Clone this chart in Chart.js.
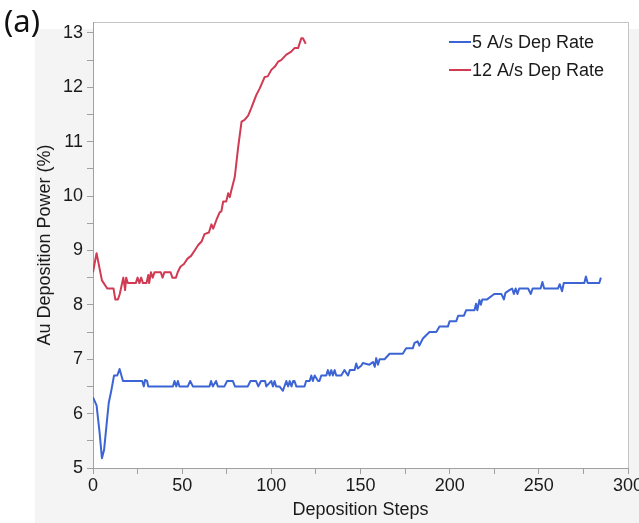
<!DOCTYPE html>
<html>
<head>
<meta charset="utf-8">
<script src="https://cdn.jsdelivr.net/npm/chart.js@4"></script>
<style>
html, body { margin: 0; padding: 0; background: #fff; }
#wrap { position: relative; width: 639px; height: 523px; }
#tag { position: absolute; left: 4px; top: -1px; font: 31px "Noto Sans", sans-serif; color: #111; }
</style>
</head>
<body>
<div id="wrap">
  <canvas id="chart" width="639" height="523"></canvas>
  <div id="tag">(a)</div>
</div>
<script>
// values
const seriesLabels = ['5 A/s Dep Rate', '12 A/s Dep Rate'];

const stepsBlue = [0, 2, 3.7, 5, 6.2, 7.5, 8.8, 10.3, 11.8, 13.6, 14.9, 16.8, 27.6, 28.5, 29.2, 30.3, 31,
  44.8, 45.7, 46.7, 47.6, 48.5, 53.2, 54.5, 56, 65.3, 66.2, 67.2, 69, 70, 73.7, 75.2, 78.4, 79.6,
  86.8, 88.3, 91.4, 92.7, 94.2, 96.5, 97.2, 100, 100.9, 101.8, 102.7, 104.6, 106.5, 108.4, 109.4,
  110.3, 111.3, 112.2, 113, 114, 118.6, 119.5, 121.5, 122.4, 123.3, 124.3, 126.2, 127, 128, 130.8,
  131.7, 132.7, 133.6, 134.5, 135.5, 136.4, 139.2, 141, 143, 144, 146.7, 147.6, 148.5, 150.4, 151.3,
  155, 157, 158, 158.8, 159.8, 160.7, 163.5, 166.3, 173.7, 175.6, 179.3, 180.3, 182, 183, 185, 188.7,
  192.5, 194.3, 199, 200, 203.7, 204.8, 208, 209.2, 213.9, 214.8, 215.5, 216.7, 217.5, 218.3, 221,
  225, 229, 230.4, 231.3, 233.5, 235, 236, 237, 238, 239, 244, 245.5, 246.5, 251, 252, 253, 260.7,
  261.7, 263, 264, 275.5, 276.4, 277.4, 283.9, 284.8];
const powerBlue = [6.3, 6.15, 5.65, 5.18, 5.33, 5.76, 6.19, 6.43, 6.7, 6.7, 6.82, 6.6, 6.6, 6.5, 6.62, 6.6, 6.5,
  6.5, 6.6, 6.5, 6.6, 6.5, 6.5, 6.6, 6.5, 6.5, 6.6, 6.5, 6.6, 6.5, 6.5, 6.6, 6.6, 6.5,
  6.5, 6.6, 6.6, 6.5, 6.6, 6.6, 6.5, 6.6, 6.5, 6.6, 6.5, 6.5, 6.42, 6.6, 6.5,
  6.6, 6.5, 6.6, 6.6, 6.5, 6.5, 6.6, 6.6, 6.7, 6.6, 6.7, 6.6, 6.6, 6.7, 6.7,
  6.8, 6.7, 6.8, 6.7, 6.8, 6.7, 6.7, 6.8, 6.7, 6.8, 6.8, 6.92, 6.83, 6.88, 6.93,
  6.9, 6.95, 6.86, 7.02, 6.9, 7.0, 7.0, 7.1, 7.1, 7.2, 7.2, 7.3, 7.33, 7.25, 7.38, 7.5,
  7.5, 7.6, 7.6, 7.7, 7.7, 7.8, 7.8, 7.9, 7.9, 8.02, 7.9, 8.09, 8.0, 8.1, 8.1,
  8.2, 8.2, 8.1, 8.22, 8.27, 8.3, 8.2, 8.3, 8.2, 8.3, 8.3, 8.2, 8.3, 8.3, 8.42, 8.3, 8.3,
  8.38, 8.25, 8.4, 8.4, 8.52, 8.4, 8.4, 8.5];

const stepsRed = [0, 2, 5, 8, 11.5, 12.5, 14, 15, 17, 18, 18.6, 19.5, 24, 25, 26, 27, 28, 30, 31, 31.5,
  32.5, 33.5, 34.5, 38, 39, 40, 43.5, 44.5, 46.5, 47.5, 49, 51, 53, 55, 57, 59, 61, 62.5, 65, 66.4,
  67.4, 69.2, 71, 72, 73, 74.7, 75.8, 76.7, 77.7, 79.5, 81.4, 83.3, 85, 87, 88.8, 91.6, 93.5, 96.3,
  98, 100, 102, 103.8, 105.5, 108.4, 111, 113, 115, 116.8, 117.7, 119.3];
const powerRed = [8.6, 8.95, 8.45, 8.3, 8.3, 8.1, 8.1, 8.2, 8.5, 8.27, 8.5, 8.4, 8.4, 8.5, 8.4, 8.5, 8.4, 8.4, 8.55, 8.4,
  8.6, 8.5, 8.6, 8.6, 8.5, 8.6, 8.6, 8.5, 8.5, 8.6, 8.7, 8.75, 8.85, 8.9, 9.0, 9.1, 9.17, 9.3, 9.33, 9.48,
  9.4, 9.56, 9.7, 9.72, 9.9, 9.9, 10.05, 9.98, 10.12, 10.35, 10.9, 11.37, 11.4, 11.48, 11.62, 11.86, 11.98, 12.19,
  12.2, 12.32, 12.38, 12.47, 12.5, 12.6, 12.65, 12.72, 12.72, 12.9, 12.9, 12.8];

const blueColor = '#3d64d4';
const redColor = '#d03a52';
const axisGray = '#a0a0a0';
const tickFont = { family: '"Liberation Sans", Arial, sans-serif', size: 18 };

const toPoints = (xs, ys) => xs.map((x, i) => ({ x: x, y: ys[i] }));

// gray panel behind the plot and white plot box
const backdrop = {
  id: 'backdrop',
  beforeDraw(chart) {
    const c = chart.ctx, a = chart.chartArea;
    c.save();
    c.fillStyle = '#fff';
    c.fillRect(0, 0, chart.width, chart.height);
    c.fillStyle = '#f4f4f4';
    c.fillRect(35, 29, chart.width - 35, chart.height - 29);
    c.fillStyle = '#fff';
    c.fillRect(a.left, a.top, a.right - a.left, a.bottom - a.top);
    c.strokeStyle = '#c4c4c4';
    c.lineWidth = 1;
    c.strokeRect(a.left + 0.5, a.top + 0.5, a.right - a.left, a.bottom - a.top);
    c.restore();
  }
};

// legend drawn inside the top right corner of the plot
const cornerLegend = {
  id: 'cornerLegend',
  afterDraw(chart) {
    const c = chart.ctx, a = chart.chartArea;
    c.save();
    c.font = '18px "Liberation Sans", Arial, sans-serif';
    c.textBaseline = 'middle';
    c.fillStyle = '#1a1a1a';
    chart.data.datasets.forEach((ds, i) => {
      const y = a.top + 20 + i * 28;
      c.strokeStyle = ds.borderColor;
      c.lineWidth = 2;
      c.beginPath();
      c.moveTo(a.right - 179, y);
      c.lineTo(a.right - 157, y);
      c.stroke();
      c.fillText(ds.label, a.right - 156, y + 1);
    });
    c.restore();
  }
};

new Chart(document.getElementById('chart').getContext('2d'), {
  type: 'line',
  data: {
    datasets: [
      { label: seriesLabels[0], data: toPoints(stepsBlue, powerBlue), borderColor: blueColor,
        borderWidth: 2, pointRadius: 0, borderJoinStyle: 'round' },
      { label: seriesLabels[1], data: toPoints(stepsRed, powerRed), borderColor: redColor,
        borderWidth: 2, pointRadius: 0, borderJoinStyle: 'round' }
    ]
  },
  options: {
    responsive: false,
    animation: false,
    layout: { padding: { left: 0, right: 11, top: 22, bottom: 0 } },
    plugins: { legend: { display: false }, tooltip: { enabled: false } },
    scales: {
      x: {
        type: 'linear', min: 0, max: 300,
        ticks: { stepSize: 25, autoSkip: false, maxRotation: 0, padding: 1, color: '#1a1a1a', font: tickFont,
          callback: v => (v % 50 === 0 ? v : '') },
        grid: { drawOnChartArea: false, tickLength: 6, tickColor: axisGray },
        border: { color: axisGray },
        title: { display: true, text: 'Deposition Steps', color: '#1a1a1a', font: tickFont,
          padding: { top: 0, bottom: 2 } },
        afterFit(s) { s.height = 55; s.paddingLeft = 0; s.paddingRight = 0; }
      },
      y: {
        min: 5, max: 13.2,
        ticks: { stepSize: 0.5, autoSkip: false, includeBounds: false, padding: 4, color: '#1a1a1a', font: tickFont,
          callback: v => (Number.isInteger(v) ? v : '') },
        afterBuildTicks(s) { s.ticks = s.ticks.filter(t => t.value <= 13); },
        grid: { drawOnChartArea: false, tickLength: 6, tickColor: axisGray },
        border: { color: axisGray },
        title: { display: true, text: 'Au Deposition Power (%)', color: '#1a1a1a', font: tickFont,
          padding: { top: 34, bottom: 0 } },
        afterFit(s) { s.width = 93; s.paddingTop = 0; s.paddingBottom = 0; }
      }
    }
  },
  plugins: [backdrop, cornerLegend]
});
</script>
</body>
</html>
